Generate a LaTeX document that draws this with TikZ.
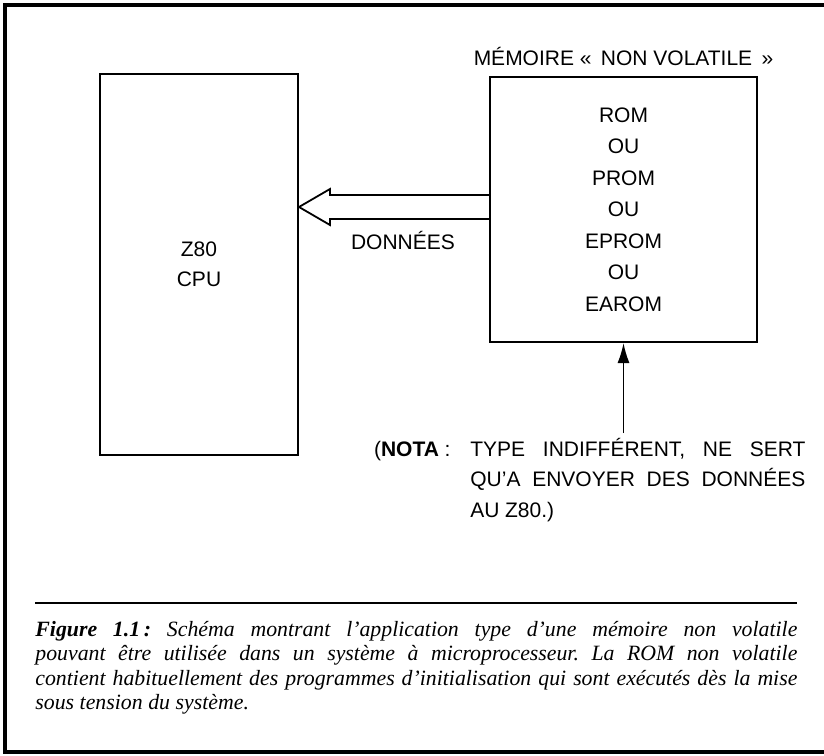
\documentclass[tikz,border=0pt]{standalone}
\usepackage{fontspec}
\setmainfont{Liberation Sans}
\newfontfamily\capfont[Ligatures=TeX]{Liberation Serif}
\usetikzlibrary{positioning,arrows.meta}
\frenchspacing

\begin{document}
\begin{tikzpicture}[x=0.5pt, y=-0.5pt,
                    every node/.style = {inner sep=0pt,
                      font=\fontsize{10.5}{15.25}\selectfont},
                    box/.style = {draw, line width=1pt, align=center},
                    wide/.style = {anchor=base west, text width=#1, align=justify,
                      execute at begin node={\tolerance=10000\hyphenpenalty=10000
                        \spaceskip=2.8pt plus 8pt minus .6pt}}]
  \useasboundingbox (0,0) rectangle (824,755);
  \draw[line width=1.6pt] (5,5) rectangle (834,752);

  \node[box, minimum width=99pt, minimum height=190.5pt] (cpu)
    at (199,264.5) {Z80\\CPU};
  \node[box, minimum width=133.5pt, minimum height=132.5pt,
        font=\fontsize{10.5}{15.75}\selectfont] (mem)
    at (623.5,209.5) {ROM\\OU\\PROM\\OU\\EPROM\\OU\\EAROM};
  \node[above=5pt of mem] (memlabel) {MÉMOIRE «\, NON VOLATILE\, »};

  \coordinate (tip) at (cpu.east |- 0,207);
  \path (tip) ++(31,-12) coordinate (s1) ++(0,24) coordinate (s2);
  \draw[line width=0.9pt, line join=miter]
    (mem.west |- s1) -- (s1) -- ++(0,-6) -- (tip)
    -- ++(31,18) -- (s2) -- (mem.west |- s2);
  \node (donnees) at (403,240) {DONNÉES};

  \coordinate (feed) at (mem.south |- 0,433);
  \draw[-{Latex[length=10pt,width=6pt]}, line width=0.8pt] (feed) -- (mem.south);

  \node[wide=167.5pt] (nota) at (470,456)
    {\llap{(\textbf{NOTA} :\hspace{10pt}}%
     TYPE INDIFFÉRENT, NE SERT\linebreak
     QU'A ENVOYER DES DONNÉES\linebreak
     AU Z80.)};

  \draw[line width=0.9pt] (35,603) -- (797,603);
  \node[wide=381pt, font=\fontsize{10.9}{12.3}\capfont\itshape] (caption) at (35,636)
    {\textbf{Figure 1.1\,:} Schéma montrant l'application type d'une mémoire non volatile\linebreak
     pouvant être utilisée dans un système à microprocesseur. La ROM non volatile\linebreak
     contient habituellement des programmes d'initialisation qui sont exécutés dès la mise\linebreak
     sous tension du système.};
\end{tikzpicture}
\end{document}
